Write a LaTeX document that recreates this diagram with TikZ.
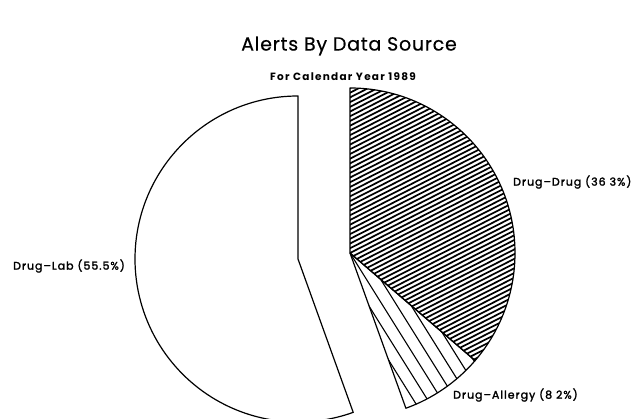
\documentclass[tikz,border=0pt]{standalone}
\usepackage{fontspec}
\setmainfont{Poppins}
\newfontfamily\titlefont{Poppins}[LetterSpace=4, FakeBold=0.4]
\newfontfamily\subfont{Poppins}[LetterSpace=12]
\newfontfamily\slicefont{Poppins}[LetterSpace=9, FakeBold=2]
\begin{document}
\begin{tikzpicture}[x=1pt, y=1pt, line join=round,
    slice/.style={draw, line width=1.2pt},
    fineline/.style={line width=1.7pt},
    wideline/.style={line width=1.1pt},
    slicetext/.style={font=\slicefont\fontsize{11}{13}\selectfont, inner sep=0pt, anchor=west}]
    \useasboundingbox (0,0) rectangle (639,419);
    % Centres
    \coordinate (cR) at (350,166);
    \coordinate (cL) at (298,160);
    % Titel
    \node[font=\titlefont\fontsize{19}{22}\selectfont] (title) at (349,373) {Alerts By Data Source};
    \node[font=\subfont\bfseries\fontsize{10.5}{12}\selectfont] (sub) at (343,342) {For Calendar Year 1989};
    % Drug-Drug, fijn gearceerd
    \begin{scope}
        \clip (cR) -- ++(90:165) arc[start angle=90, end angle=-40.7, radius=165] -- cycle;
        \begin{scope}[shift={(cR)}, rotate=27]
            \foreach \k in {-45,...,45}
                \draw[fineline] (-200,\k*4.2) -- (200,\k*4.2);
        \end{scope}
    \end{scope}
    % Drug-Allergy, grof gearceerd
    \begin{scope}
        \clip (cR) -- ++(-40.7:165) arc[start angle=-40.7, end angle=-70.2, radius=165] -- cycle;
        \begin{scope}[shift={(cR)}, rotate=-58]
            \foreach \k in {-15,...,15}
                \draw[wideline] (-200,\k*12) -- (200,\k*12);
        \end{scope}
    \end{scope}
    % Omtrekken
    \draw[slice] (cR) -- ++(90:165) arc[start angle=90, end angle=-40.7, radius=165] -- cycle;
    \draw[slice] (cR) -- ++(-40.7:165) arc[start angle=-40.7, end angle=-70.2, radius=165] -- cycle;
    \draw[slice] (cL) -- ++(90:163) arc[start angle=90, end angle=289.8, radius=163] -- cycle;
    % Labels
    \node[slicetext] (lab) at (13,153) {Drug\textendash Lab (55.5\%)};
    \node[slicetext] (drug) at (513,237) {Drug\textendash Drug (36 3\%)};
    \node[slicetext] (allergy) at (453,24) {Drug\textendash Allergy (8 2\%)};
\end{tikzpicture}
\end{document}
